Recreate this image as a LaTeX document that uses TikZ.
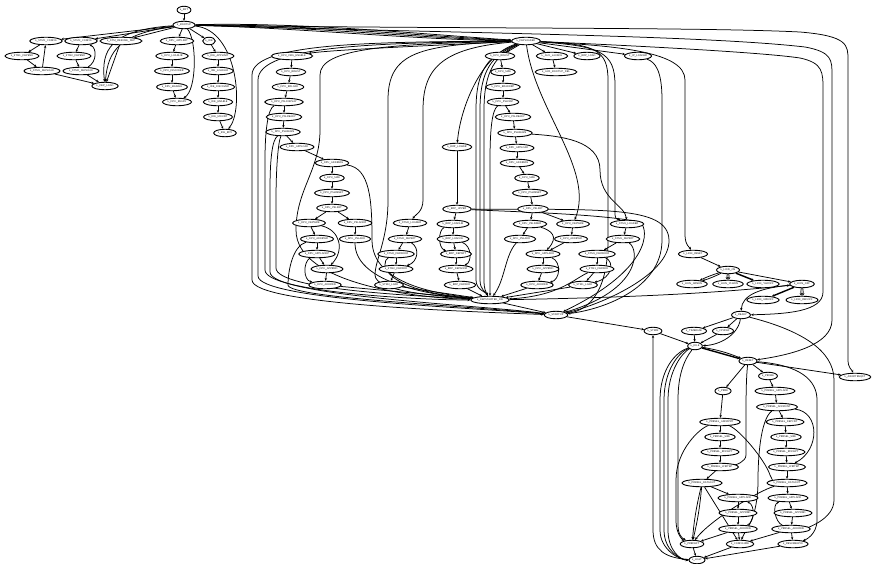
\documentclass[tikz,border=0pt]{standalone}
\usepackage{tikz}
\usetikzlibrary{shapes.geometric,arrows.meta,backgrounds}

\begin{document}
\begin{tikzpicture}[x=1pt,y=-1pt,
  every node/.style={font=\sffamily\fontsize{2.5}{2.9}\selectfont},
  st/.style={ellipse,draw,line width=0.9pt,fill=white,inner xsep=0.8pt,inner ysep=0.3pt,minimum height=7.5pt},
  tr/.style={-{Stealth[length=2.8pt,width=2.4pt]},line width=0.75pt},
  thk/.style={tr,line width=1.4pt}]
  \useasboundingbox (0,0) rectangle (872,564);

  % boot part, top left
  \node[st] (root) at (184,10) {k\_INIT};
  \node[st] (hub1) at (184,25) {k\_BOOTUP};
  \node[st] (a1) at (46,41) {k\_STM1\_CONFIG};
  \node[st] (a2) at (81,41) {k\_STM2\_CONFIG};
  \node[st] (a3) at (121,41) {k\_STM\_RESUME\_DEP};
  \node[st] (b1) at (177,41) {k\_DPU\_APPLINIT};
  \node[st] (b2) at (209,41) {k\_IDE};
  \node[st] (a1a) at (22,56) {k\_STM1\_DEPEND};
  \node[st] (a2a) at (74,56) {k\_STM2\_DEPEND};
  \node[st] (a1b) at (42,71) {k\_STM1\_DEPLOAD};
  \node[st] (a2b) at (81,71) {k\_STM2\_DEPLOAD};
  \node[st] (lnk) at (105,86) {k\_DEP\_LOAD};
  \node[st] (b1a) at (172,56) {k\_DPU\_LOADLIB};
  \node[st] (b1b) at (172,71) {k\_DPU\_DISCOVER};
  \node[st] (b1c) at (172,87) {k\_DPU\_ENABLE};
  \node[st] (b1d) at (177,102) {k\_DPU\_READY};
  \node[st] (b2a) at (218,56) {k\_IDE\_APPLINIT};
  \node[st] (b2b) at (218,71) {k\_IDE\_LOADLIB};
  \node[st] (b2c) at (218,87) {k\_IDE\_DISCOVER};
  \node[st] (b2d) at (218,102) {k\_IDE\_ENABLE};
  \node[st] (b2e) at (218,117) {k\_IDE\_MOUNT};
  \node[st] (b2f) at (225,133) {k\_IDE\_RDY};

  % dependency part, middle
  \node[st] (hub2) at (526,41) {k\_DEPLOADED};
  \node[st] (m1) at (292,56) {k\_DPU\_DBG\_ENABLE};
  \node[st] (m2) at (291,72) {k\_DPU\_BRLIST};
  \node[st] (m3) at (288,87) {k\_DPU\_BRLOAD};
  \node[st] (m4) at (284,102) {k\_DPU\_PSLDISPLAY};
  \node[st] (m5) at (284,117) {k\_DPU\_PSLREADY};
  \node[st] (m6) at (283,132) {k\_DPU\_PSLBEGIN};
  \node[st] (m7) at (297,147) {k\_DPU\_APPLOAD};
  \node[st] (m8) at (332,163) {k\_DPU\_ADDRESS};
  \node[st] (m9) at (332,178) {k\_DPU\_SIZE};
  \node[st] (m10) at (332,193) {k\_DPU\_PSLRESET};
  \node[st] (m11) at (332,208) {k\_DPU\_PSLINIT};
  \node[st] (m12) at (309,223) {k\_DPU\_DEPWRK};
  \node[st] (m13) at (355,223) {k\_DPU\_PSLADDR};
  \node[st] (m14) at (317,239) {k\_DPU\_ADDRWR};
  \node[st] (m15) at (355,239) {k\_DPU\_PSLADD};
  \node[st] (m16) at (317,254) {k\_DPU\_APPLADDP};
  \node[st] (m17) at (327,269) {k\_DPU\_APPRND};
  \node[st] (m18) at (325,285) {k\_DPU\_ADDRDN};
  \node[st] (p1) at (410,223) {k\_STM2\_LOADER};
  \node[st] (p2) at (405,239) {k\_STM2\_DEPSRT};
  \node[st] (p3) at (396,254) {k\_STM2\_DEPADDR};
  \node[st] (p4) at (396,269) {k\_STM2\_DEPADD};
  \node[st] (p5) at (389,285) {k\_STM2\_LOAD};
  \node[st] (n0) at (457,147) {k\_BRP\_LOWER};
  \node[st] (q1) at (457,209) {k\_BRP\_UPPER};
  \node[st] (q2) at (453,224) {k\_BRP\_LOADLIB};
  \node[st] (q3) at (453,239) {k\_BRP\_LOADOK};
  \node[st] (q4) at (456,254) {k\_BRP\_DEPSRT};
  \node[st] (q5) at (456,269) {k\_BRP\_DEPADDR};
  \node[st] (q6) at (460,285) {k\_BRP\_DEPADD};
  \node[st] (r1) at (500,56) {k\_DPU\_BRLIST};
  \node[st] (r2) at (503,72) {k\_DPU\_SIZE};
  \node[st] (r3) at (503,87) {k\_DPU\_BRADDRP};
  \node[st] (r4) at (503,102) {k\_DPU\_PSLDISP};
  \node[st] (r5) at (513,117) {k\_DPU\_PSLREADY};
  \node[st] (r6) at (515,133) {k\_DPU\_PSLBEGIN};
  \node[st] (r7) at (517,148) {k\_DPU\_APPLOAD};
  \node[st] (r8) at (517,163) {k\_DPU\_ADDRESS};
  \node[st] (r9) at (527,178) {k\_DPU\_SIZE};
  \node[st] (r10) at (530,193) {k\_DPU\_PSLRESET};
  \node[st] (r11) at (533,209) {k\_DPU\_PSLINIT};
  \node[st] (r12) at (530,224) {k\_DPU\_PSLNDER};
  \node[st] (r13) at (573,224) {k\_DPU\_DEPWRK};
  \node[st] (r14) at (520,239) {k\_DPU\_PSLADD};
  \node[st] (r15) at (571,239) {k\_DPU\_ADDRWR};
  \node[st] (r16) at (543,254) {k\_DPU\_APPLADD};
  \node[st] (r17) at (543,269) {k\_DPU\_APPRND};
  \node[st] (r18) at (537,285) {k\_DPU\_ADDRDN};
  \node[st] (t1) at (552,56) {k\_AUX\_LAUNCH};
  \node[st] (t1a) at (556,72) {k\_AUX\_BOOTUP\_DEL};
  \node[st] (t2) at (587,56) {k\_BRP\_LOAD};
  \node[st] (t3) at (638,56) {k\_IP\_LOADER};
  \node[st] (s1) at (627,224) {k\_STM1\_LOADER};
  \node[st] (s2) at (623,239) {k\_STM1\_DEPSRT};
  \node[st] (s3) at (597,254) {k\_STM1\_DEPADDR};
  \node[st] (s4) at (597,269) {k\_STM1\_DEPADD};
  \node[st] (s5) at (583,285) {k\_STM1\_LOAD};
  \node[st] (sink) at (490,300) {k\_DEPSTARTED\_DN};
  \node[st] (start) at (556,315) {k\_STARTUP};

  % run part, bottom right
  \node[st] (u1) at (693,254) {k\_LION\_RESET};
  \node[st] (u2) at (728,270) {k\_LION\_ON};
  \node[st] (u3) at (692,284) {k\_LION\_GRNON};
  \node[st] (u4) at (728,284) {k\_LION\_YLWON};
  \node[st] (u5) at (763,284) {k\_LION\_YLWOFF};
  \node[st] (u6) at (802,284) {k\_LION\_OFF};
  \node[st] (u7) at (763,300) {k\_LION\_GRNOFF};
  \node[st] (u8) at (802,300) {k\_LION\_REDOFF};
  \node[st] (v1) at (741,315) {k\_READY};
  \node[st] (w1) at (653,331) {k\_STMM};
  \node[st] (w2) at (694,331) {k\_TIMEBASE};
  \node[st] (w3) at (723,331) {k\_CPUDEF};
  \node[st] (hub3) at (695,346) {k\_IDLE};
  \node[st] (x1) at (748,361) {k\_RESET};
  \node[st] (x2) at (768,376) {k\_PROBE};
  \node[st] (y1) at (855,377) {k\_ABORTREQST};
  \node[st] (z1) at (723,391) {k\_PRBE};
  \node[st] (z2) at (775,391) {k\_PRBSEL\_APPLADD};
  \node[st] (z3) at (777,407) {k\_PRBSEL\_ADDRUNT};
  \node[st] (z4) at (720,422) {k\_PRBSEL\_ADDRPRT};
  \node[st] (z5) at (785,422) {k\_PRBSEL\_DEPCNT};
  \node[st] (z6) at (720,437) {k\_PRBSEL\_SIZE};
  \node[st] (z7) at (786,437) {k\_PRBSEL\_SIZE};
  \node[st] (z8) at (720,452) {k\_PRBSEL\_RDDEPT};
  \node[st] (z9) at (786,452) {k\_PRBSEL\_RDDEPT};
  \node[st] (z10) at (720,467) {k\_PRBSEL\_WRITEP};
  \node[st] (z11) at (787,467) {k\_PRBSEL\_WRITEP};
  \node[st] (z12) at (702,483) {k\_PRBSEL\_DATAOUT};
  \node[st] (z13) at (787,483) {k\_PRBSEL\_DATAOUT};
  \node[st] (z14) at (738,498) {k\_PRBSEL\_APPLADD};
  \node[st] (z15) at (788,498) {k\_PRBSEL\_APPLADD};
  \node[st] (z16) at (738,513) {k\_PRBSEL\_APPRND};
  \node[st] (z17) at (793,513) {k\_PRBSEL\_APPRND};
  \node[st] (z18) at (738,529) {k\_PRBSEL\_ADDRDN};
  \node[st] (z19) at (791,529) {k\_PRBSEL\_ADDRDN};
  \node[st] (z20) at (692,544) {k\_PRBDEFT};
  \node[st] (z21) at (740,544) {k\_CONFIGURE};
  \node[st] (z22) at (793,544) {k\_RESUMEGPIO};
  \node[st] (z23) at (697,560) {k\_HALT};

  \begin{scope}[on background layer]
  % boot part
  \draw[tr] (root) -- (hub1);
  \foreach \t in {a1,a2,a3,b1,b2} \draw[tr] (hub1) -- (\t);
  \draw[tr] (hub1) .. controls (110,30) and (101,50) .. (lnk);
  \draw[tr] (hub1) .. controls (120,34) and (108,50) .. (lnk);
  \draw[tr] (a1) -- (a1a); \draw[tr] (a1a) -- (a1b); \draw[tr] (a1b) -- (a1);
  \draw[tr] (a2) -- (a2a); \draw[tr] (a2a) -- (a2b);
  \draw[tr] (a2b) .. controls (97,62) and (97,48) .. (a2);
  \draw[tr] (a1b) -- (lnk); \draw[tr] (a2b) -- (lnk); \draw[tr] (a3) -- (lnk);
  \draw[tr] (b1) -- (b1a); \draw[tr] (b1a) -- (b1b); \draw[tr] (b1b) -- (b1c); \draw[tr] (b1c) -- (b1d);
  \draw[tr] (hub1) .. controls (197,40) and (197,90) .. (b1d);
  \draw[tr] (b2) -- (b2a); \draw[tr] (b2a) -- (b2b); \draw[tr] (b2b) -- (b2c);
  \draw[tr] (b2c) -- (b2d); \draw[tr] (b2d) -- (b2e); \draw[tr] (b2e) -- (b2f);
  \draw[tr] (hub1) .. controls (238,30) and (244,110) .. (b2f);
  \foreach \o in {-3,-1,1,3}
    \draw[tr] (hub1) .. controls (300,{25+\o}) and (420,{37+\o}) .. (hub2);
  \draw[tr] (hub1) .. controls (450,29) and (700,27) .. (800,32) .. controls (848,36) and (848,45) .. (848,60) -- (848,360) .. controls (848,368) and (852,370) .. (y1);
  \draw[tr] (hub1) .. controls (450,33) and (700,35) .. (805,47) .. controls (832,52) and (832,60) .. (832,75) -- (832,320) .. controls (832,345) and (790,355) .. (x1);

  % dependency part
  \draw[tr] (hub2) .. controls (620,45) and (760,52) .. (800,58) .. controls (823,63) and (823,72) .. (823,90) -- (823,292) .. controls (823,312) and (785,314) .. (v1);
  \draw[tr] (hub2) .. controls (620,46) and (685,52) .. (685,80) -- (685,235) .. controls (685,245) and (690,248) .. (u1);
  \draw[tr] (hub2) .. controls (420,46) and (330,50) .. (m1);
  \foreach \t in {r1,t1,t2,t3} \draw[tr] (hub2) -- (\t);
  \draw[tr] (t1) -- (t1a);
  \draw[tr] (hub2) .. controls (480,55) and (460,110) .. (n0);
  \draw[tr] (n0) -- (q1);
  \draw[tr] (hub2) .. controls (440,48) and (423,70) .. (423,110) -- (423,200) .. controls (423,212) and (415,215) .. (p1);
  \draw[tr] (hub2) .. controls (420,45) and (388,52) .. (388,100) -- (388,200) .. controls (388,240) and (375,260) .. (375,275) .. controls (375,292) and (440,296) .. (sink);
  \draw[tr] (hub2) .. controls (390,44) and (320,48) .. (320,75) -- (320,130) .. controls (320,170) and (296,190) .. (296,230) .. controls (296,285) and (420,298) .. (sink);
  \draw[tr] (hub2) .. controls (380,42) and (252,42) .. (252,75) -- (252,280) .. controls (252,305) and (480,312) .. (start);
  \draw[tr] (hub2) .. controls (380,43) and (258,45) .. (258,80) -- (258,276) .. controls (258,300) and (480,308) .. (start);
  \foreach \xx in {476,480,484}
    \draw[tr] (hub2) .. controls ({\xx+12},55) and (\xx,70) .. (\xx,110) -- (\xx,280) .. controls (\xx,290) and (486,292) .. (sink);
  \draw[tr] (hub2) .. controls (535,110) and (595,170) .. (r13);
  \draw[tr] (hub2) .. controls (595,44) and (608,50) .. (608,80) -- (608,240) .. controls (608,290) and (590,310) .. (start);
  \draw[tr] (hub2) .. controls (600,46) and (615,52) .. (615,85) -- (615,215) .. controls (615,220) and (620,220) .. (s1);
  \draw[tr] (t3) .. controls (655,62) and (662,70) .. (662,100) -- (662,240) .. controls (662,290) and (600,310) .. (start);
  \draw[tr] (m1) -- (m2); \draw[tr] (m2) -- (m3); \draw[tr] (m3) -- (m4); \draw[tr] (m4) -- (m5);
  \draw[tr] (m5) -- (m6); \draw[tr] (m6) -- (m7); \draw[tr] (m7) -- (m8); \draw[tr] (m8) -- (m9);
  \draw[tr] (m9) -- (m10); \draw[tr] (m10) -- (m11); \draw[tr] (m11) -- (m12); \draw[tr] (m11) -- (m13);
  \draw[tr] (m12) -- (m14); \draw[tr] (m13) -- (m15); \draw[tr] (m14) -- (m16);
  \draw[tr] (m16) -- (m17); \draw[tr] (m17) -- (m18);
  \draw[tr] (m4) .. controls (268,108) and (265,130) .. (265,160) -- (265,270) .. controls (265,292) and (420,300) .. (sink);
  \draw[tr] (m6) .. controls (272,140) and (270,160) .. (270,190) -- (270,272) .. controls (270,296) and (480,305) .. (start);
  \draw[tr] (m6) .. controls (278,142) and (276,170) .. (276,200) -- (276,268) .. controls (276,290) and (420,296) .. (sink);
  \draw[tr] (m8) .. controls (370,168) and (372,200) .. (372,240) .. controls (372,285) and (440,294) .. (sink);
  \draw[tr] (m15) .. controls (355,280) and (420,294) .. (sink);
  \draw[tr] (m18) -- (sink);
  \draw[tr] (m16) .. controls (303,262) and (303,280) .. (m18);
  \draw[tr] (m14) .. controls (293,246) and (288,270) .. (288,285) .. controls (288,298) and (470,306) .. (start);
  \draw[tr] (m12) .. controls (340,230) and (345,250) .. (m17);
  \draw[tr] (p1) -- (p2); \draw[tr] (p2) -- (p3); \draw[tr] (p3) -- (p4); \draw[tr] (p4) -- (p5);
  \draw[tr] (p2) .. controls (420,248) and (418,262) .. (p4);
  \draw[tr] (p5) -- (sink);
  \draw[tr] (p3) .. controls (380,262) and (380,290) .. (sink);
  \draw[tr] (q1) -- (q2); \draw[tr] (q2) -- (q3); \draw[tr] (q3) -- (q4); \draw[tr] (q4) -- (q5); \draw[tr] (q5) -- (q6);
  \draw[tr] (q2) .. controls (438,230) and (438,248) .. (q4);
  \draw[tr] (q3) .. controls (472,246) and (472,262) .. (q5);
  \draw[tr] (q6) -- (sink);
  \draw[tr] (q1) .. controls (600,210) and (668,205) .. (669,240) .. controls (670,275) and (600,305) .. (start);
  \draw[tr] (r1) -- (r2); \draw[tr] (r2) -- (r3); \draw[tr] (r3) -- (r4); \draw[tr] (r4) -- (r5);
  \draw[tr] (r5) -- (r6); \draw[tr] (r6) -- (r7); \draw[tr] (r7) -- (r8); \draw[tr] (r8) -- (r9);
  \draw[tr] (r9) -- (r10); \draw[tr] (r10) -- (r11); \draw[tr] (r11) -- (r12); \draw[tr] (r11) -- (r13);
  \draw[tr] (r12) -- (r14); \draw[tr] (r13) -- (r15); \draw[tr] (r15) -- (r16);
  \draw[tr] (r16) -- (r17); \draw[tr] (r17) -- (r18);
  \draw[tr] (r4) .. controls (492,110) and (490,130) .. (490,160) -- (490,285) .. controls (490,290) and (490,292) .. (sink);
  \draw[tr] (r6) .. controls (560,136) and (600,140) .. (600,170) .. controls (600,200) and (625,205) .. (s1);
  \draw[tr] (r14) .. controls (505,255) and (505,280) .. (sink);
  \draw[tr] (r18) -- (sink);
  \draw[tr] (r16) .. controls (562,262) and (560,280) .. (r18);
  \draw[tr] (r12) .. controls (550,230) and (560,236) .. (r16);
  \draw[tr] (s1) -- (s2); \draw[tr] (s2) -- (s3); \draw[tr] (s3) -- (s4); \draw[tr] (s4) -- (s5);
  \draw[tr] (s3) .. controls (615,262) and (612,278) .. (s5);
  \draw[tr] (s5) -- (sink);
  \draw[tr] (s2) .. controls (640,250) and (640,290) .. (start);
  \draw[tr] (s4) .. controls (575,278) and (560,296) .. (sink);
  \draw[tr] (q1) .. controls (520,212) and (600,214) .. (640,222) .. controls (650,230) and (650,270) .. (start);

  % run part
  \draw[tr] (sink) -- (start);
  \draw[tr] (start) -- (w1);
  \draw[tr] (sink) .. controls (600,298) and (700,295) .. (u6);
  \draw[tr] (u1) -- (u2);
  \draw[tr] (u2) to[bend left=4] (u3); \draw[tr] (u2) to[bend right=4] (u3);
  \draw[tr] (u2) to[bend left=10] (u4); \draw[tr] (u2) to[bend right=10] (u4);
  \draw[thk] (u2) -- (u5);
  \draw[tr] (u2) -- (u6);
  \draw[thk] (u6) -- (u7);
  \draw[tr] (u6) to[bend left=10] (u8); \draw[tr] (u6) to[bend right=10] (u8);
  \draw[tr] (u6) .. controls (760,288) and (742,295) .. (v1);
  \draw[tr] (v1) -- (w2); \draw[tr] (v1) -- (w3);
  \draw[tr] (v1) .. controls (738,335) and (720,345) .. (hub3);
  \draw[tr] (w1) -- (hub3); \draw[tr] (w2) -- (hub3); \draw[tr] (w3) -- (hub3);
  \draw[thk] (hub3) -- (x1); \draw[tr] (hub3) to[bend left=6] (x1);
  \draw[tr] (x1) -- (x2); \draw[tr] (x1) -- (y1); \draw[tr] (x1) -- (z1);
  \draw[tr] (x1) .. controls (746,380) and (746,400) .. (746,420) -- (746,455) .. controls (746,462) and (735,465) .. (z10);
  \draw[tr] (x1) .. controls (800,365) and (817,380) .. (817,400) -- (817,520) .. controls (817,535) and (805,540) .. (z22);
  \draw[tr] (v1) .. controls (800,330) and (834,350) .. (834,380) -- (834,500) .. controls (834,520) and (805,528) .. (z19);
  \draw[tr] (x2) -- (z2);
  \draw[tr] (z1) -- (z4); \draw[tr] (z4) -- (z6); \draw[tr] (z6) -- (z8); \draw[tr] (z8) -- (z10); \draw[tr] (z10) -- (z12);
  \draw[tr] (z2) -- (z3); \draw[tr] (z3) -- (z5); \draw[tr] (z5) -- (z7); \draw[tr] (z7) -- (z9);
  \draw[tr] (z9) -- (z11); \draw[tr] (z11) -- (z13);
  \draw[tr] (z3) .. controls (760,420) and (758,460) .. (758,480) .. controls (758,520) and (745,530) .. (z21);
  \draw[tr] (z3) .. controls (820,412) and (820,450) .. (z11);
  \draw[tr] (z4) .. controls (740,430) and (765,460) .. (770,475) .. controls (772,480) and (775,482) .. (z13);
  \draw[tr] (z4) .. controls (700,428) and (676,450) .. (676,480) -- (676,520) .. controls (676,535) and (683,540) .. (z20);
  \draw[tr] (z12) -- (z14);
  \draw[tr] (z12) to[bend left=4] (z20); \draw[tr] (z12) to[bend right=4] (z20);
  \draw[tr] (z12) -- (z21);
  \draw[tr] (z13) -- (z15);
  \draw[tr] (z13) .. controls (760,490) and (710,520) .. (z20);
  \draw[tr] (z14) -- (z16); \draw[tr] (z16) -- (z18);
  \draw[tr] (z18) .. controls (755,522) and (755,505) .. (z14);
  \draw[tr] (z15) -- (z17); \draw[tr] (z17) -- (z19);
  \draw[tr] (z19) .. controls (775,522) and (772,505) .. (z15);
  \draw[tr] (z18) -- (z21); \draw[tr] (z18) -- (z20);
  \draw[tr] (z19) -- (z22); \draw[tr] (z19) -- (z21);
  \draw[tr] (z20) -- (z23); \draw[tr] (z21) -- (z23); \draw[tr] (z22) -- (z23);
  \draw[tr] (z23) .. controls (665,558) and (653,550) .. (653,530) -- (w1);
  \foreach \xx in {660,664,668}
    \draw[tr] (hub3) .. controls ({\xx+15},352) and (\xx,370) .. (\xx,400) -- (\xx,530) .. controls (\xx,550) and (680,560) .. (z23);
  \draw[tr] (hub3) .. controls (684,360) and (678,375) .. (678,400) -- (678,525) .. controls (678,535) and (682,538) .. (z20);
  \end{scope}
\end{tikzpicture}
\end{document}
